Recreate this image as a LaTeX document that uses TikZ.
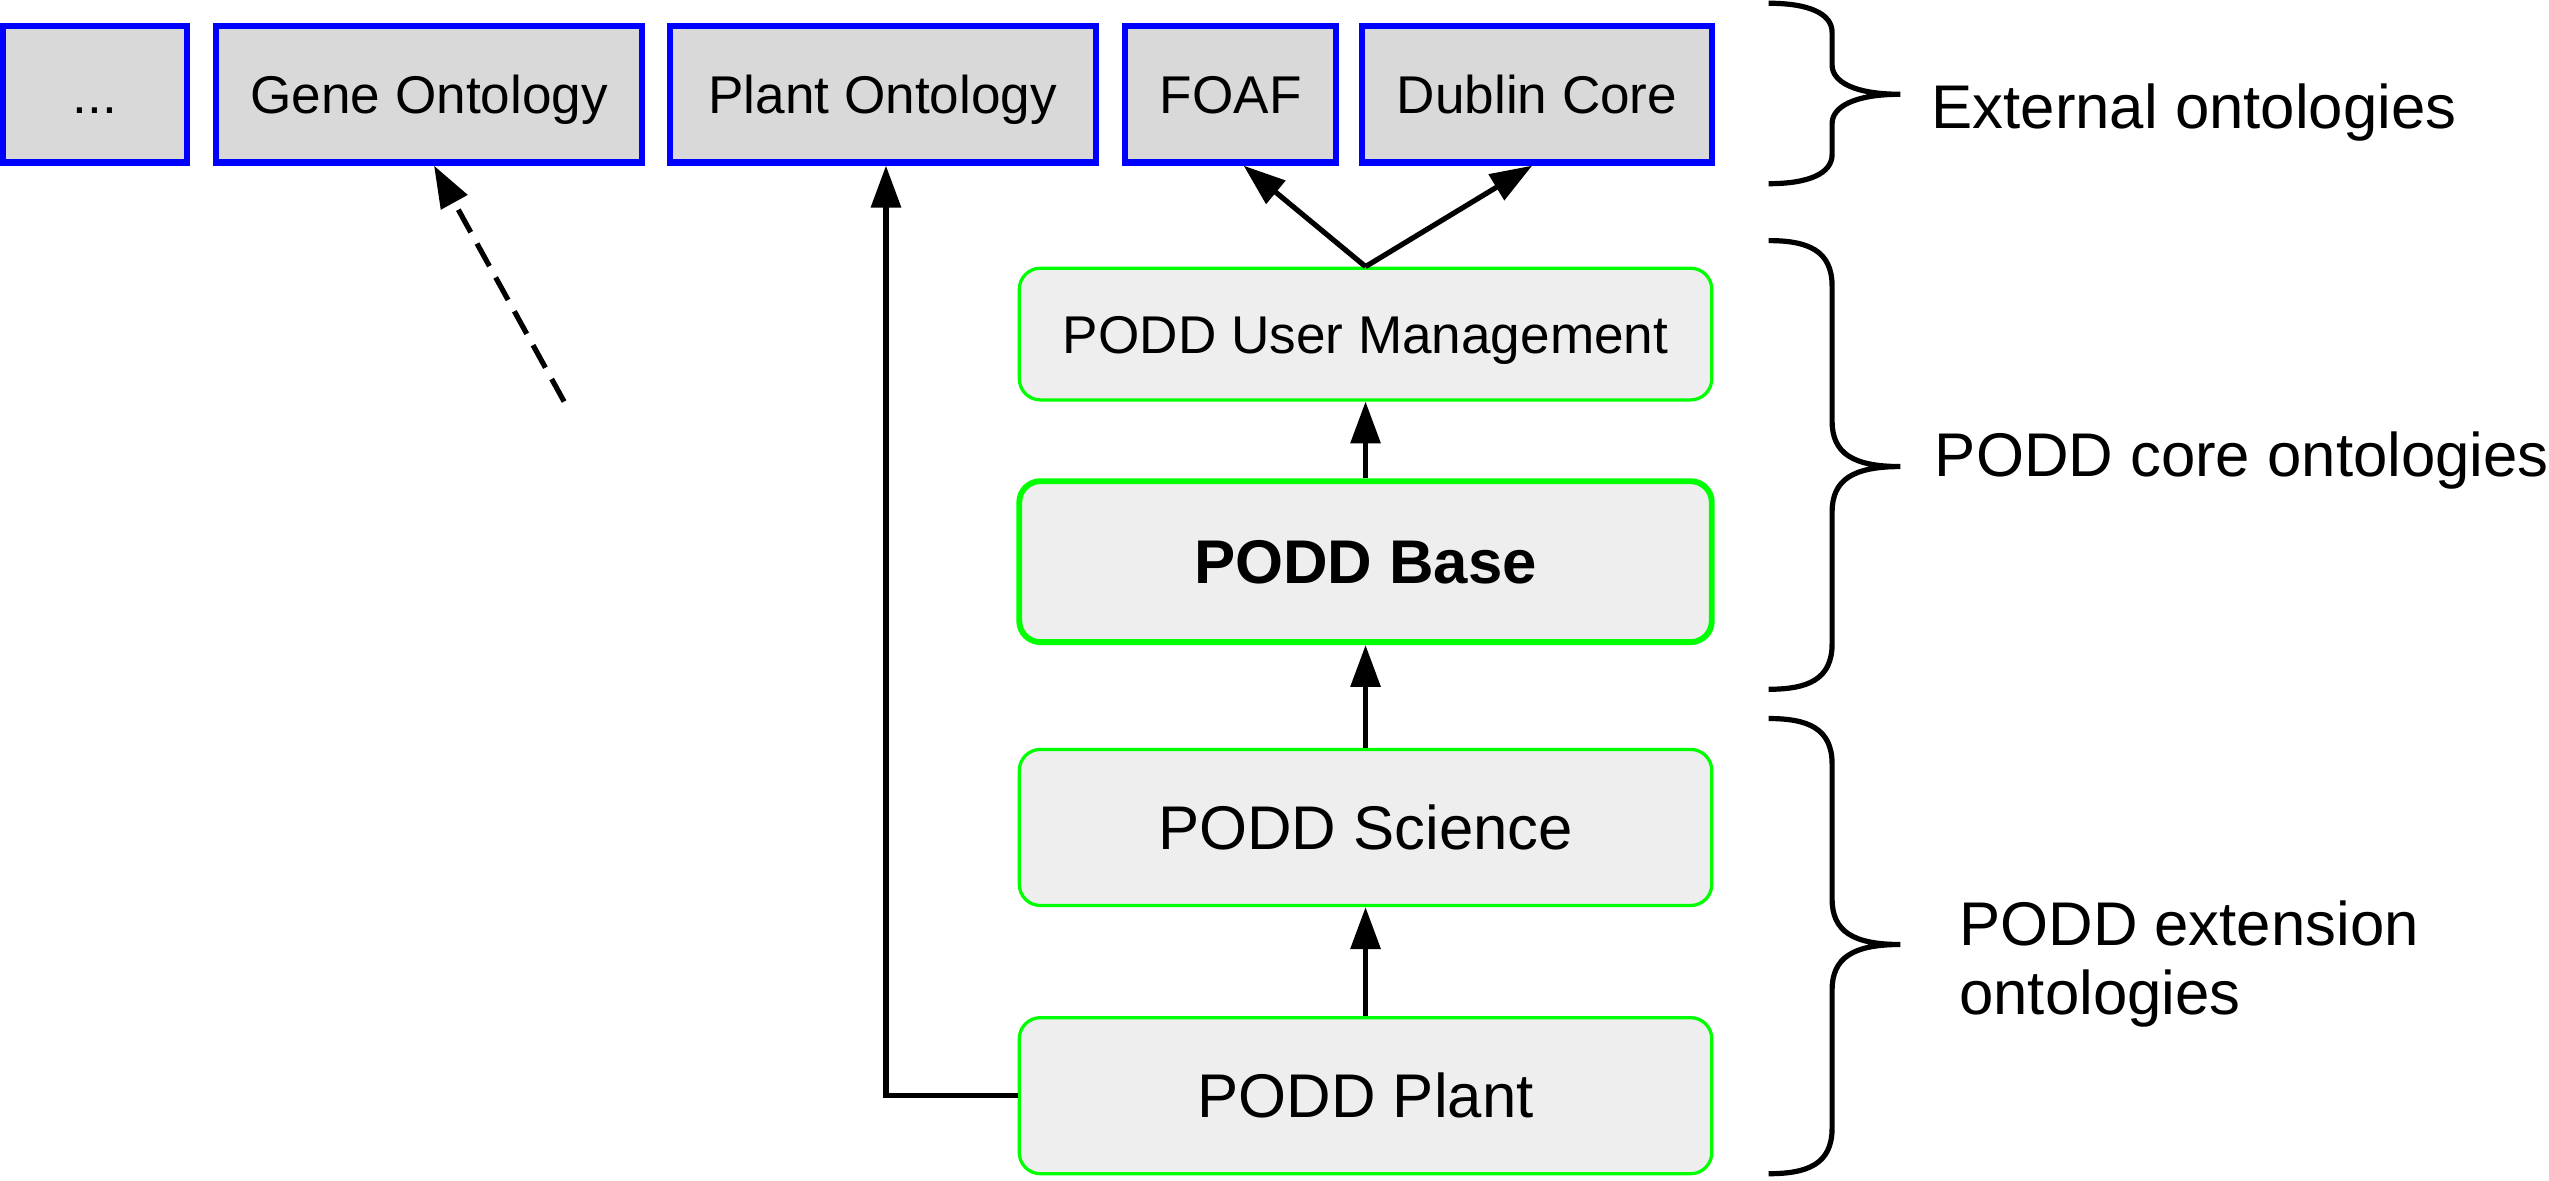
\documentclass[tikz,border=0pt]{standalone}
\usepackage{fontspec}
\setmainfont{Liberation Sans}
\usetikzlibrary{arrows.meta,calc}
\newcommand\uu{0.3mm}
\definecolor{extblue}{HTML}{0000FF}
\definecolor{extfill}{HTML}{D9D9D9}
\definecolor{podgreen}{HTML}{00FF00}
\definecolor{podfill}{HTML}{EEEEEE}
\newcommand\mybrace[4]{%
  \draw[bracestyle] (1088,#1) .. controls (1112,#1) and (1127,{#1+6}) .. (1127,{#1+#4})
    -- (1127,{#3-#4}) .. controls (1127,{#3-8}) and (1140,#3) .. (1169,#3)
    .. controls (1140,#3) and (1127,{#3+8}) .. (1127,{#3+#4})
    -- (1127,{#2-#4}) .. controls (1127,{#2-6}) and (1112,#2) .. (1088,#2);}
\begin{document}
\begin{tikzpicture}[x=0.3mm,y=-0.3mm,
  extbox/.style={draw=extblue, line width=3.8*\uu, fill=extfill, minimum height=84*\uu,
    inner sep=0pt, font=\fontsize{27.9pt}{33pt}\selectfont, text height=20pt, text depth=0pt},
  podbox/.style={draw=podgreen, line width=2*\uu, fill=podfill, rounded corners=13*\uu,
    minimum width=426*\uu, inner sep=0pt, font=\fontsize{32.4pt}{38pt}\selectfont,
    text height=23.2pt, text depth=0pt},
  conn/.style={line width=3.2*\uu, -{Triangle[length=22pt,width=15.4pt]}},
  dashconn/.style={conn, dash pattern=on 13.5pt off 6.8pt},
  bracestyle/.style={line width=3.2*\uu},
  sidelabel/.style={font=\fontsize{32.4pt}{36.3pt}\selectfont, inner sep=0pt, align=left}
]
\useasboundingbox (0,0) rectangle (1568,726);

% external ontologies
\node[extbox, minimum width=113*\uu] (etc) at (58.5,58) {...};
\node[extbox, minimum width=262*\uu] (gene) at (264,58) {Gene Ontology};
\node[extbox, minimum width=262*\uu] (plantonto) at (543,58) {Plant Ontology};
\node[extbox, minimum width=130*\uu] (foaf) at (757,58) {FOAF};
\node[extbox, minimum width=215*\uu] (dc) at (945.5,58) {Dublin Core};

% PODD ontologies
\node[podbox, minimum height=81*\uu, font=\fontsize{27.9pt}{33pt}\selectfont, text height=20pt] (um) at (840,205.5) {PODD User Management};
\node[podbox, minimum height=99*\uu, line width=3.6*\uu, font=\fontsize{32.4pt}{38pt}\selectfont\bfseries] (base) at (840,345.5) {PODD Base};
\node[podbox, minimum height=96*\uu] (sci) at (840,509) {PODD Science};
\node[podbox, minimum height=96*\uu] (plant) at (840,674) {PODD Plant};

% connectors
\coordinate (dashtail) at (347,247);
\draw[dashconn] (dashtail) -- ($(gene.south)+(3,0)$);
\draw[conn] (plant.west) -| ($(plantonto.south)+(2,0)$);
\draw[conn] (plant.north) -- (sci.south);
\draw[conn] (sci.north) -- (base.south);
\draw[conn] (base.north) -- (um.south);
\draw[conn] (um.north) -- ($(foaf.south)+(8,0)$);
\draw[conn] (um.north) -- ($(dc.south)+(-3,0)$);

% braces
\mybrace{2}{113}{58}{18}
\mybrace{148}{424}{287}{28}
\mybrace{442}{722}{581}{28}

% labels
\node[sidelabel, anchor=west] (lext) at (1188,69.5) {External ontologies};
\node[sidelabel, anchor=west] (lcore) at (1190,283) {PODD core ontologies};
\node[sidelabel, anchor=west] (lextn) at (1205,593) {PODD extension\\ontologies};
\end{tikzpicture}
\end{document}
